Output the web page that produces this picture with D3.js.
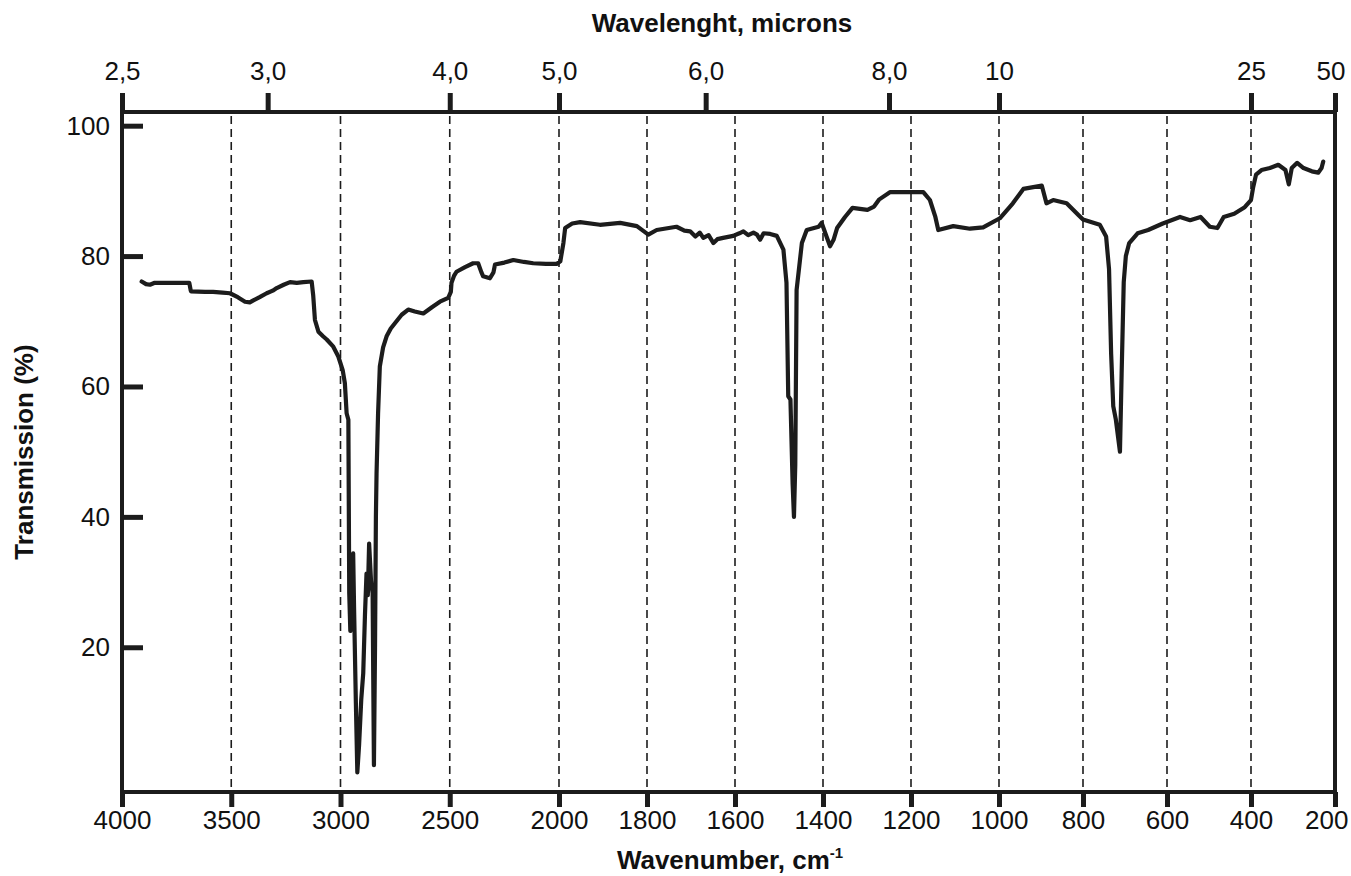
<!DOCTYPE html>
<html>
<head>
<meta charset="utf-8">
<script src="https://cdn.jsdelivr.net/npm/d3@7"></script>
<style>
  html, body { margin: 0; padding: 0; background: #fff; }
  svg { display: block; font-family: "Liberation Sans", Arial, Helvetica, sans-serif; }
</style>
</head>
<body>
<svg id="chart" width="1351" height="876"></svg>
<script>
// ---- data ----
const wavenumberTicks = [4000, 3500, 3000, 2500, 2000, 1800, 1600, 1400, 1200, 1000, 800, 600, 400, 200];
const gridWavenumbers = [3500, 3000, 2500, 2000, 1800, 1600, 1400, 1200, 1000, 800, 600, 400];
const wavelengthTicks = [2.5, 3.0, 4.0, 5.0, 6.0, 8.0, 10, 25, 50];
const wavelengthLabels = ["2,5", "3,0", "4,0", "5,0", "6,0", "8,0", "10", "25", "50"];
const transmissionTicks = [20, 40, 60, 80, 100];

const wavenumber = [3910,3890,3872,3850,3811,3750,3692,3686,3684,3620,3583,3540,3506,3470,3437,3415,3399,3370,3338,3310,3292,3260,3231,3200,3170,3132,3125,3117,3101,3080,3063,3033,3010,2990,2980,2972,2964,2960,2955,2949,2945,2942,2938,2930,2923,2915,2905,2896,2888,2881,2875,2869,2860,2853,2850,2847,2842,2838,2835,2828,2820,2805,2789,2770,2751,2720,2690,2660,2621,2580,2545,2507,2495,2492,2480,2469,2430,2393,2370,2355,2347,2316,2300,2293,2250,2209,2160,2118,2060,2011,1997,1990,1986,1970,1952,1907,1861,1823,1797,1778,1733,1715,1702,1690,1680,1672,1660,1649,1640,1627,1604,1590,1581,1570,1558,1550,1543,1535,1520,1505,1490,1483,1479,1474,1469,1466,1463,1460,1448,1437,1410,1403,1392,1384,1376,1368,1350,1333,1299,1284,1272,1248,1200,1172,1157,1145,1138,1104,1066,1036,998,967,942,898,887,871,839,811,800,760,745,738,733,728,722,716,712,708,703,698,690,670,645,610,569,545,520,498,480,465,440,415,400,395,388,375,355,335,318,310,303,290,275,255,240,232,228];
const transmission = [76.1,75.7,75.6,75.9,75.9,75.9,75.9,74.8,74.6,74.5,74.5,74.4,74.3,73.7,73.0,72.9,73.2,73.7,74.3,74.7,75.1,75.6,76.0,75.9,76.0,76.1,74.0,70.2,68.4,67.7,67.2,66.1,64.6,62.5,60.5,55.9,54.9,28.3,22.5,24.7,33.0,34.4,26.2,12.0,0.8,5.0,12.0,16.0,25.0,31.3,28.0,35.9,30.0,28.3,15.0,1.9,20.0,40.0,46.7,55.9,63.1,66.0,67.7,68.9,69.7,71.0,71.8,71.5,71.2,72.2,73.0,73.6,74.5,75.9,77.0,77.6,78.3,78.9,78.9,77.5,76.9,76.6,77.5,78.7,79.0,79.4,79.1,78.9,78.8,78.8,79.2,82.0,84.3,85.0,85.2,84.8,85.1,84.6,83.3,84.0,84.5,83.9,83.8,83.0,83.6,82.8,83.2,82.0,82.6,82.8,83.1,83.5,83.8,83.2,83.6,83.3,82.5,83.5,83.4,83.1,81.0,75.9,58.5,58.0,45.0,40.0,48.0,74.8,82.0,84.0,84.5,85.1,83.0,81.5,82.5,84.3,86.0,87.4,87.1,87.6,88.7,89.8,89.8,89.8,88.6,86.1,84.0,84.6,84.2,84.4,85.8,88.1,90.3,90.8,88.1,88.6,88.1,86.3,85.6,84.8,83.0,78.0,65.0,57.0,55.0,52.0,50.0,62.0,76.0,80.0,82.0,83.5,84.0,85.0,86.0,85.5,86.0,84.5,84.3,86.0,86.5,87.5,88.6,90.5,92.5,93.2,93.5,94.0,93.2,91.0,93.5,94.3,93.5,93.0,92.8,93.5,94.5];

// ---- layout ----
const plotLeft = 122, plotRight = 1335, plotTop = 112, plotBottom = 792;
const ink = "#1c1c1c";
const labelSize = 26;

const svg = d3.select("#chart");

const x = d3.scaleLinear()
  .domain([4000, 2000, 1000, 200])
  .range([plotLeft, 559, 999, plotRight]);
const y = d3.scaleLinear()
  .domain([-2.2, 102.1])
  .range([plotBottom, plotTop]);

// dashed grid lines
svg.append("g").selectAll("line")
  .data(gridWavenumbers)
  .join("line")
  .attr("x1", d => x(d)).attr("x2", d => x(d))
  .attr("y1", plotTop + 4).attr("y2", plotBottom - 2)
  .attr("stroke", ink)
  .attr("stroke-width", 1.6)
  .attr("stroke-dasharray", "8,5");

// spectrum line
const line = d3.line()
  .x((d, i) => x(wavenumber[i]))
  .y(d => y(d));
svg.append("path")
  .datum(transmission)
  .attr("d", line)
  .attr("fill", "none")
  .attr("stroke", ink)
  .attr("stroke-width", 4.2)
  .attr("stroke-linejoin", "round")
  .attr("stroke-linecap", "round");

// frame
svg.append("rect")
  .attr("x", plotLeft).attr("y", plotTop)
  .attr("width", plotRight - plotLeft).attr("height", plotBottom - plotTop)
  .attr("fill", "none")
  .attr("stroke", ink)
  .attr("stroke-width", 4);

function styleTicks(g) {
  g.select(".domain").remove();
  g.selectAll(".tick line").attr("stroke", ink).attr("stroke-width", 5);
  g.selectAll(".tick text")
    .attr("fill", "#111")
    .attr("font-size", labelSize)
    .attr("font-family", "Liberation Sans, Arial, sans-serif");
}

// bottom axis
const xAxis = d3.axisBottom(x)
  .tickValues(wavenumberTicks)
  .tickSize(15)
  .tickPadding(4)
  .tickFormat(d3.format("d"));
const gx = svg.append("g")
  .attr("transform", `translate(0,${plotBottom})`)
  .call(xAxis)
  .call(styleTicks);
gx.selectAll(".tick text")
  .filter(d => d === 200)
  .attr("text-anchor", "end")
  .attr("x", 13);

// top axis (wavelength in microns -> wavenumber)
const xTop = d3.axisTop(x)
  .tickValues(wavelengthTicks.map(w => 10000 / w))
  .tickSize(19)
  .tickPadding(13)
  .tickFormat((d, i) => wavelengthLabels[i]);
const gt = svg.append("g")
  .attr("transform", `translate(0,${plotTop})`)
  .call(xTop)
  .call(styleTicks);
gt.selectAll(".tick text")
  .filter((d, i) => i === wavelengthTicks.length - 1)
  .attr("text-anchor", "end")
  .attr("x", 10);

// left axis (inner ticks)
const yAxis = d3.axisLeft(y)
  .tickValues(transmissionTicks)
  .tickSize(-21)
  .tickPadding(12)
  .tickFormat(d3.format("d"));
const gy = svg.append("g")
  .attr("transform", `translate(${plotLeft},0)`)
  .call(yAxis)
  .call(styleTicks);
gy.selectAll(".tick text").attr("x", -12);

// titles
svg.append("text")
  .attr("x", 722).attr("y", 32)
  .attr("text-anchor", "middle")
  .attr("font-size", 26)
  .attr("font-weight", "bold")
  .attr("fill", "#111")
  .text("Wavelenght, microns");

const bt = svg.append("text")
  .attr("x", 730).attr("y", 869)
  .attr("text-anchor", "middle")
  .attr("font-size", 26)
  .attr("font-weight", "bold")
  .attr("fill", "#111");
bt.append("tspan").text("Wavenumber, cm");
bt.append("tspan").attr("font-size", 15).attr("dy", -11).text("-1");

svg.append("text")
  .attr("transform", `translate(33,${(plotTop + plotBottom) / 2}) rotate(-90)`)
  .attr("text-anchor", "middle")
  .attr("font-size", 26)
  .attr("font-weight", "bold")
  .attr("fill", "#111")
  .text("Transmission (%)");
</script>
</body>
</html>
